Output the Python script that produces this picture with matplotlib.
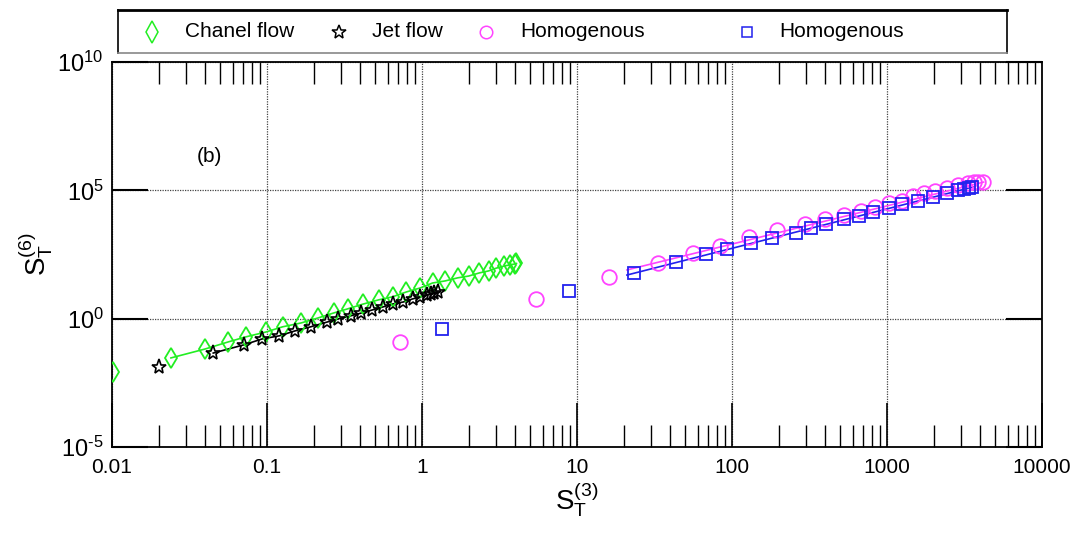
import math
import matplotlib
matplotlib.use("Agg")
import matplotlib.pyplot as plt
from matplotlib.ticker import FixedLocator, NullFormatter, FuncFormatter

plt.rcParams['font.family'] = ['Liberation Sans', 'DejaVu Sans']
plt.rcParams['mathtext.fontset'] = 'custom'
plt.rcParams['mathtext.rm'] = 'Liberation Sans'
plt.rcParams['mathtext.it'] = 'Liberation Sans'

# Chanel flow (green diamonds), first point is off the line
chanel_x = [0.0102, 0.024, 0.040, 0.056, 0.073, 0.098, 0.126, 0.166, 0.214, 0.269,
            0.331, 0.417, 0.525, 0.646, 0.794, 0.977, 1.17, 1.41, 1.70, 2.00,
            2.34, 2.69, 3.02, 3.39, 3.72, 3.98, 4.07]
chanel_y = [0.0083, 0.0295, 0.066, 0.123, 0.195, 0.30, 0.48, 0.68, 1.07, 1.66,
            2.4, 3.7, 5.4, 7.1, 11.0, 15.8, 24.5, 29.5, 38.9, 45.7,
            60.3, 72.4, 93.3, 112, 126, 135, 141]

# Jet flow (black stars)
jet_x = [0.020, 0.045, 0.071, 0.093, 0.120, 0.151, 0.191, 0.245, 0.288, 0.347,
         0.407, 0.479, 0.562, 0.646, 0.759, 0.871, 0.977, 1.07, 1.15, 1.20, 1.26]
jet_y = [0.0132, 0.0457, 0.0955, 0.162, 0.214, 0.331, 0.479, 0.741, 0.977, 1.29,
         1.66, 2.19, 2.88, 3.72, 4.47, 5.89, 7.08, 8.32, 9.33, 10.0, 10.5]

# Homogenous (magenta circles)
homo1_x = [0.72, 5.4, 16.2, 33.1, 56.2, 83.2, 129, 195, 295, 398, 525, 676, 832,
           1023, 1259, 1479, 1738, 2042, 2455, 2884, 3311, 3631, 3890, 4169]
homo1_y = [0.123, 5.9, 41.7, 148, 363, 676, 1514, 2884, 4898, 7586, 10965, 15488,
           22387, 32359, 38019, 60256, 79433, 93325, 123027, 162181, 190546,
           204174, 213796, 218776]
homo1_fit_x = [21, 4200]
homo1_fit_y = [79, 209000]

# Homogenous (blue squares)
homo2_x = [1.35, 8.9, 23.4, 43.7, 67.6, 93.3, 132, 182, 257, 324, 407, 525, 661,
           813, 1023, 1259, 1585, 1995, 2455, 2884, 3162, 3388, 3548]
homo2_y = [0.40, 12.0, 60.3, 162, 331, 513, 891, 1380, 2188, 3388, 4898, 7586,
           10000, 14454, 20417, 29512, 38019, 54954, 79433, 100000, 112202,
           125893, 134896]
homo2_fit_x = [21, 3600]
homo2_fit_y = [50, 135000]

labels = ["Chanel flow", "Jet flow", "Homogenous", "Homogenous"]
x_ticks = [0.01, 0.1, 1, 10, 100, 1000, 10000]
y_ticks = [1e-5, 1, 1e5, 1e10]
green = "#22ee22"
magenta = "#ff44ff"
blue = "#2222ee"


def ylab(v, p):
    e = round(math.log10(v))
    if e < 0:
        return r"$\mathregular{10^{\text{-}%d}}$" % -e
    return r"$\mathregular{10^{%d}}$" % e


fig = plt.figure(figsize=(10.8, 5.33), dpi=100)
ax = fig.add_axes([0.1037, 0.1614, 0.8611, 0.7223])

ax.plot(chanel_x[1:], chanel_y[1:], color=green, lw=1.2, zorder=2)
ax.plot(jet_x[1:], jet_y[1:], color="black", lw=1.2, zorder=2)
ax.plot(homo1_fit_x, homo1_fit_y, color=magenta, lw=1.2, zorder=2)
ax.plot(homo2_fit_x, homo2_fit_y, color=blue, lw=1.2, zorder=2)

ax.plot(chanel_x, chanel_y, ls="none", marker="d", ms=10.5, mfc="none", mec=green, mew=1.3, zorder=3)
ax.plot(jet_x, jet_y, ls="none", marker="*", ms=11, mfc="none", mec="black", mew=1.2, zorder=4)
ax.plot(homo1_x, homo1_y, ls="none", marker="o", ms=10.5, mfc="none", mec=magenta, mew=1.3, zorder=3)
ax.plot(homo2_x, homo2_y, ls="none", marker="s", ms=8.5, mfc="none", mec=blue, mew=1.3, zorder=4)

ax.set_xscale("log")
ax.set_yscale("log")
ax.set_xlim(0.01, 10000)
ax.set_ylim(1e-5, 1e10)

minor_x = [m * t for t in x_ticks[:-1] for m in range(2, 10)]
ax.xaxis.set_major_locator(FixedLocator(x_ticks))
ax.xaxis.set_minor_locator(FixedLocator(minor_x))
ax.xaxis.set_minor_formatter(NullFormatter())
ax.xaxis.set_major_formatter(FuncFormatter(lambda v, p: "%g" % v))
ax.yaxis.set_major_locator(FixedLocator(y_ticks))
ax.yaxis.set_minor_locator(FixedLocator([]))
ax.yaxis.set_major_formatter(FuncFormatter(ylab))

ax.tick_params(axis="x", which="major", direction="in", length=32, width=1.2,
               top=False, bottom=True, labelsize=15, pad=8)
ax.tick_params(axis="x", which="minor", direction="in", length=16, width=1.0,
               top=True, bottom=True)
ax.tick_params(axis="y", which="major", direction="in", length=26, width=1.5,
               left=True, right=True, labelsize=17, pad=6)
for s in ax.spines.values():
    s.set_linewidth(1.3)

ax.grid(True, which="major", ls=(0, (1, 1)), color="#444444", lw=0.9)
ax.set_axisbelow(True)

ax.set_xlabel(r"$\mathregular{S_T^{(3)}}$", fontsize=20, labelpad=2)
ax.set_ylabel(r"$\mathregular{S_T^{(6)}}$", fontsize=20, labelpad=2)
ax.text(0.01 * 10 ** 0.55, 10 ** 6.3, "(b)", fontsize=15, ha="left", va="center")

# legend box across the top
lax = fig.add_axes([0.1093, 0.9006, 0.8231, 0.0806])
lax.set_xlim(0, 1)
lax.set_ylim(0, 1)
lax.set_xticks([])
lax.set_yticks([])
for s in lax.spines.values():
    s.set_linewidth(1.2)
lax.spines["top"].set_linewidth(2.0)
lax.spines["bottom"].set_color("#888888")
mk_x = [0.038, 0.249, 0.414, 0.708]
tx_x = [0.075, 0.286, 0.452, 0.744]
styles = [dict(marker="d", ms=11, mec=green), dict(marker="*", ms=10, mec="black"),
          dict(marker="o", ms=9, mec=magenta), dict(marker="s", ms=7, mec=blue)]
for mx, tx, lab, st in zip(mk_x, tx_x, labels, styles):
    lax.plot([mx], [0.5], ls="none", mfc="none", mew=1.1, **st)
    lax.text(tx, 0.5, lab, fontsize=15, ha="left", va="center")

fig.savefig("out.png", dpi=100)
